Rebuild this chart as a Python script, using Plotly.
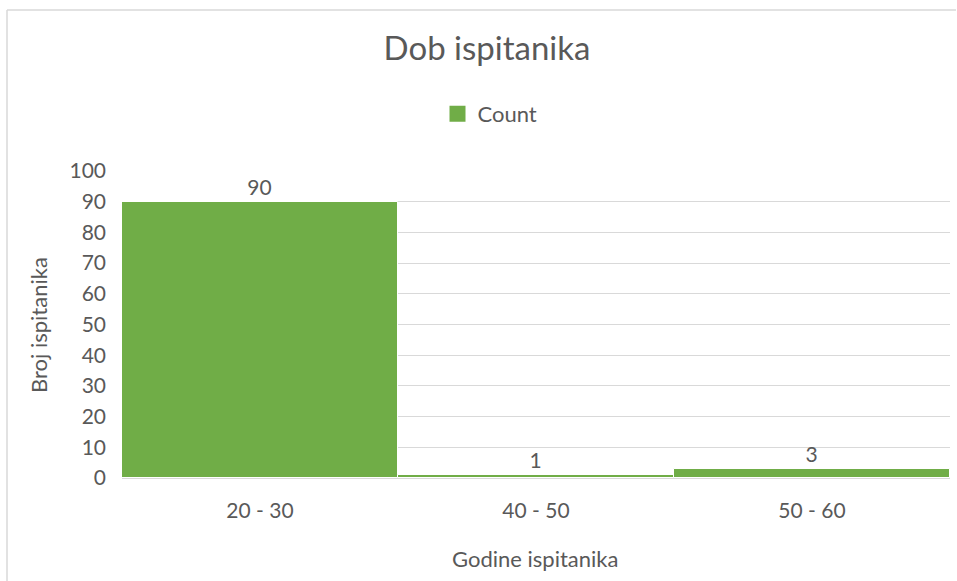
import plotly.graph_objects as go

categories = ["20 - 30", "40 - 50", "50 - 60"]
counts = [90, 1, 3]
series_name = "Count"
title_text = "Dob ispitanika"
x_title = "Godine ispitanika"
y_title = "Broj ispitanika"

W, H = 957, 581
L, R, T, B = 122, 7, 171, 103
pw, ph = W - L - R, H - T - B

GREEN = "#70AD47"
TXT = "#595959"
GRID = "#D9D9D9"
FONT = "Lato"

fig = go.Figure()
fig.add_trace(go.Bar(
    x=categories, y=counts, name=series_name,
    marker=dict(color=GREEN, line=dict(color="white", width=1)),
    text=[str(v) for v in counts], textposition="outside",
    textfont=dict(size=21, color=TXT, family=FONT),
    cliponaxis=False, showlegend=False,
))
# legend entry (square swatch)
fig.add_trace(go.Scatter(
    x=[None], y=[None], mode="markers", name=series_name,
    marker=dict(symbol="square", size=18, color=GREEN),
    showlegend=True, hoverinfo="skip",
))

def px_to_paper_x(px):
    return (px - L) / pw

def px_to_paper_y(py):
    return (H - B - py) / ph

fig.update_layout(
    width=W, height=H,
    margin=dict(l=L, r=R, t=T, b=B),
    paper_bgcolor="white", plot_bgcolor="white",
    font=dict(family=FONT, color=TXT, size=21),
    bargap=0,
    title=dict(text=title_text, x=487 / W, xanchor="center",
               y=1 - 48 / H, yanchor="middle",
               font=dict(size=33, color=TXT, family=FONT)),
    showlegend=True,
    legend=dict(orientation="h", x=px_to_paper_x(490), xanchor="center",
                y=px_to_paper_y(114), yanchor="middle",
                font=dict(size=22, color=TXT, family=FONT),
                itemwidth=30),
    xaxis=dict(range=[-0.5, 2.5], showgrid=False, showline=True,
               linecolor=GRID, linewidth=1, ticks="", ticklabelstandoff=14,
               tickfont=dict(size=21, color=TXT, family=FONT)),
    yaxis=dict(range=[0, 100], dtick=10, showgrid=True, gridcolor=GRID,
               gridwidth=1, zeroline=False, showline=False, ticks="",
               ticklabelstandoff=15,
               tickfont=dict(size=21, color=TXT, family=FONT)),
    annotations=[
        dict(text=x_title, xref="paper", yref="paper",
             x=px_to_paper_x(535), y=px_to_paper_y(558),
             xanchor="center", yanchor="middle", showarrow=False,
             font=dict(size=22, color=TXT, family=FONT)),
        dict(text=y_title, xref="paper", yref="paper",
             x=px_to_paper_x(38), y=px_to_paper_y(325),
             xanchor="center", yanchor="middle", showarrow=False,
             textangle=-90,
             font=dict(size=22, color=TXT, family=FONT)),
    ],
    shapes=[
        dict(type="line", xref="paper", yref="paper",
             x0=px_to_paper_x(7), x1=px_to_paper_x(956),
             y0=px_to_paper_y(10), y1=px_to_paper_y(10),
             line=dict(color=GRID, width=1.5)),
        dict(type="line", xref="paper", yref="paper",
             x0=px_to_paper_x(7), x1=px_to_paper_x(7),
             y0=px_to_paper_y(10), y1=px_to_paper_y(581),
             line=dict(color=GRID, width=1.5)),
    ],
)

fig.write_html("out.html", config={"displayModeBar": False},
               post_script="document.body.style.margin='0';document.body.style.overflow='hidden';")
